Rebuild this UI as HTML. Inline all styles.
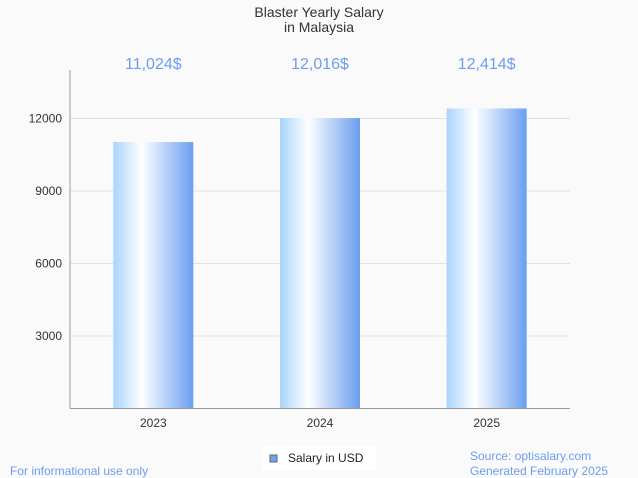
<!DOCTYPE html>
<html><head><meta charset="utf-8"><style>
body{margin:0;background:#fafafa;font-family:"Liberation Sans",sans-serif;}
svg{display:block}
</style></head><body>
<svg width="638" height="478" xmlns="http://www.w3.org/2000/svg">
<defs>
<linearGradient id="g" x1="0" x2="1" y1="0" y2="0">
<stop offset="0" stop-color="#a8d4fb"/>
<stop offset="0.35" stop-color="#ffffff"/>
<stop offset="1" stop-color="#6a9ef0"/>
</linearGradient>
</defs>
<rect width="638" height="478" fill="#fafafa"/>
<text x="319" y="17" text-anchor="middle" font-size="14" fill="#333">Blaster Yearly Salary</text>
<text x="319" y="32" text-anchor="middle" font-size="14" fill="#333">in Malaysia</text>
<g id="grid"></g>
<g id="bars"></g>
<line x1="70" y1="70" x2="70" y2="408.5" stroke="#999"/>
<line x1="70" y1="408.5" x2="570" y2="408.5" stroke="#999"/>
<rect x="262" y="446" width="114" height="24" fill="#fff"/>
<rect x="270" y="455" width="7" height="7" fill="#6aa6ee" stroke="#666" stroke-width="1"/>
<text x="288" y="462" font-size="12" fill="#222">Salary in USD</text>
<text x="10" y="475" font-size="12" fill="#6f9cf0">For informational use only</text>
<text x="470" y="460" font-size="12" fill="#6f9cf0">Source: optisalary.com</text>
<text x="470" y="475" font-size="12" fill="#6f9cf0">Generated February 2025</text>
</svg>
<script>
const categories=["2023","2024","2025"];
const values=[11024,12016,12414];
const valueLabels=["11,024$","12,016$","12,414$"];
const yTicks=[3000,6000,9000,12000];
const NS="http://www.w3.org/2000/svg";
const x0=70,x1=570,yZero=408.5,pxPer=72.5/3000;
const y=v=>yZero-v*pxPer;
const band=(x1-x0)/categories.length;
const xc=i=>x0+band*(i+0.5);
const grid=document.getElementById('grid'),bars=document.getElementById('bars');
function mk(t,a,p){const e=document.createElementNS(NS,t);for(const k in a)e.setAttribute(k,a[k]);p.appendChild(e);return e;}
yTicks.forEach(t=>{
 const l=mk('line',{x1:x0,x2:x1,y1:y(t),y2:y(t),stroke:'#e2e2e2'},grid);
 
 
 const tx=mk('text',{x:62,y:y(t)+4,'text-anchor':'end','font-size':12,fill:'#333'},grid);
 tx.textContent=t;
 
 
});
categories.forEach((c,i)=>{
 const r=mk('rect',{x:xc(i)-40,y:y(values[i]),width:80,height:yZero-y(values[i]),fill:'url(#g)'},bars);
 
 
 const v=mk('text',{x:xc(i),y:69,'text-anchor':'middle','font-size':16,fill:'#6f9cf0'},bars);
 v.textContent=valueLabels[i];
 
 
 const t=mk('text',{x:xc(i),y:427,'text-anchor':'middle','font-size':12,fill:'#333'},bars);
 t.textContent=c;
 
 
});
</script>
</body></html>
